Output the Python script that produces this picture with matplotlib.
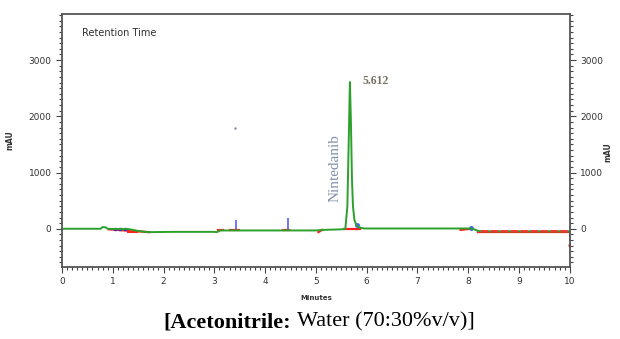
import numpy as np
from matplotlib import pyplot as plt
from matplotlib.ticker import MultipleLocator

# detector trace (minutes, mAU)
t_trace = [0.0, 0.76, 0.80, 0.86, 0.90, 1.05, 1.30, 1.40, 1.50, 1.70, 2.2, 3.0, 3.05,
           3.12, 3.40, 4.40, 5.0, 5.15, 5.50, 5.58, 5.62, 5.65, 5.67, 5.69, 5.71,
           5.73, 5.76, 5.80, 5.85, 5.95, 7.90, 8.05, 8.12, 8.20, 8.30, 10.0]
y_trace = [0, 0, 30, 25, 0, -5, -5, -20, -40, -60, -55, -55, -60,
           -30, -30, -30, -30, -20, -10, 0, 400, 1700, 2610, 1900, 900,
           400, 150, 60, 25, 5, 5, 5, -10, -40, -45, -45]

# integration baselines (red)
red_t = [[0.92, 1.72], [3.08, 3.18], [3.30, 3.48], [4.35, 4.48], [5.05, 5.12],
         [5.55, 5.87], [7.85, 8.05], [8.20, 10.0]]
red_y = [[-10, -60], [-20, -20], [-15, -15], [-20, -20], [-60, -20],
         [-5, -5], [-20, 0], [-50, -50]]

# peak markers (blue)
blue_t = [3.42, 4.46, 10.0]
blue_lo = [0, 0, -20]
blue_hi = [160, 195, -200]

peak_rt = 5.612
peak_name = "Nintedanib"

fig = plt.figure(figsize=(6.2, 3.39), dpi=100)
ax = fig.add_axes([0.1, 0.2124, 0.819, 0.7463])

for xs, ys in zip(red_t, red_y):
    ax.plot(xs, ys, color='#ff2020', lw=1.6)
ax.plot([1.3, 1.45], [-35, -35], color='#ff2020', lw=2.2)
ax.vlines(blue_t, blue_lo, blue_hi, color='#5a5aff', lw=1.2)
ax.plot([1.05, 1.15, 1.25], [-5, -5, -5], 's', color='#3030c0', ms=1.8)
ax.plot([5.80, 8.05], [75, 10], 'o', color='#4060ff', ms=2.5)
ax.plot([10.0], [-290], 'o', color='#ff2020', ms=2)
ax.plot([3.4], [1790], '.', color='#8090a0', ms=1.5)
ax.plot(t_trace, y_trace, color='#2ca02c', lw=1.4)
ax.plot([8.25, 10.0], [-45, -45], color='#ff3030', lw=1.3, ls=(0, (4, 1.5)))

ax.text(5.92, 2570, f"{peak_rt:.3f}", color='#7a7060', fontsize=8.5,
        family='Liberation Serif', fontweight='bold')
ax.text(5.38, 1080, peak_name, rotation=90, color='#8090a8', fontsize=11,
        family='Liberation Serif', ha='center', va='center')
ax.text(0.4, 3420, "Retention Time", fontsize=7, color='#303030',
        family='Liberation Sans Narrow')

ax.set_xlim(0, 10)
ax.set_ylim(-680, 3820)
ax.xaxis.set_major_locator(MultipleLocator(1))
ax.xaxis.set_minor_locator(MultipleLocator(0.1))
ax.yaxis.set_major_locator(MultipleLocator(1000))
ax.yaxis.set_minor_locator(MultipleLocator(100))
ax.tick_params(which='both', right=True, labelright=True, labelsize=6.5,
               color='#444444', labelcolor='#333333', width=0.8)
ax.tick_params(which='major', length=4)
ax.tick_params(which='minor', length=2)
for s in ax.spines.values():
    s.set_color('#555555')
    s.set_linewidth(1.3)
ax.set_xlabel("Minutes", fontsize=5, fontweight='bold', color='#333333', labelpad=6)
ax.set_ylabel("mAU", fontsize=5.5, fontweight='bold', color='#333333', labelpad=10)
fig.text(0.981, 0.55, "mAU", rotation=90, fontsize=5.5, fontweight='bold',
         color='#333333', ha='center', va='center')

fig.text(0.470, 0.05, "[Acetonitrile:", fontsize=16, fontweight='bold',
         family='Liberation Serif', ha='right', va='center')
fig.text(0.479, 0.05, "Water (70:30%v/v)]", fontsize=16,
         family='Liberation Serif', ha='left', va='center')

fig.savefig("out.png", dpi=100)
